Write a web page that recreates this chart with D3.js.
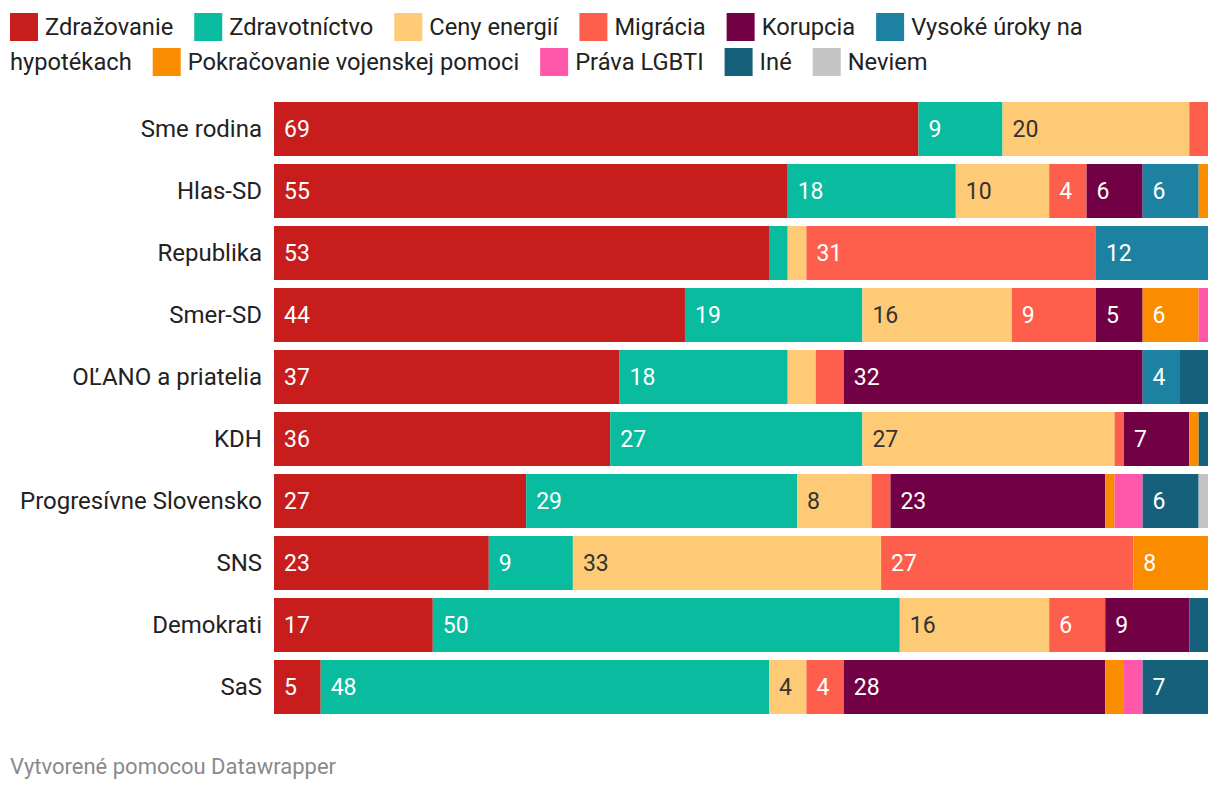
<!DOCTYPE html>
<html><head><meta charset="utf-8">
<script src="https://cdn.jsdelivr.net/npm/d3@7"></script>
<style>
html,body{margin:0;padding:0;background:#fff;}
svg{display:block;font-family:Roboto,"Noto Sans",sans-serif;}
</style></head>
<body><svg id="c" width="1220" height="792"></svg>
<script>
const parties = ["Sme rodina","Hlas-SD","Republika","Smer-SD","OĽANO a priatelia","KDH","Progresívne Slovensko","SNS","Demokrati","SaS"];
const seriesNames = ["Zdražovanie","Zdravotníctvo","Ceny energií","Migrácia","Korupcia","Vysoké úroky na hypotékach","Pokračovanie vojenskej pomoci","Práva LGBTI","Iné","Neviem"];
const zdrazovanie   = [69,55,53,44,37,36,27,23,17,5];
const zdravotnictvo = [9,18,2,19,18,27,29,9,50,48];
const cenyEnergii   = [20,10,2,16,3,27,8,33,16,4];
const migracia      = [2,4,31,9,3,1,2,27,6,4];
const korupcia      = [0,6,0,5,32,7,23,0,9,28];
const vysokeUroky   = [0,6,12,0,4,0,0,0,0,0];
const vojenskaPomoc = [0,1,0,6,0,1,1,8,0,2];
const pravaLGBTI    = [0,0,0,1,0,0,3,0,0,2];
const ine           = [0,0,0,0,3,1,6,0,2,7];
const neviem        = [0,0,0,0,0,0,1,0,0,0];
const seriesValues = [zdrazovanie,zdravotnictvo,cenyEnergii,migracia,korupcia,vysokeUroky,vojenskaPomoc,pravaLGBTI,ine,neviem];
const colors = ["#c71e1d","#09bb9f","#ffca76","#fe5f4c","#710045","#1d81a2","#fa8c00","#ff57aa","#15607a","#c4c4c4"];
const darkText = ["Ceny energií","Neviem"];

const svg = d3.select("#c");
const LEGEND_FONT = 23.7, CAT_FONT = 24, VAL_FONT = 23;

const rows = parties.map((p,i)=>{const r={party:p}; seriesNames.forEach((s,j)=>r[s]=seriesValues[j][i]); return r;});
const stack = d3.stack().keys(seriesNames)(rows);

const x = d3.scaleLinear().domain([0,100]).range([274,1208]);
const y = d3.scaleBand().domain(parties).range([102, 102+62*parties.length-8]).paddingInner(8/62).paddingOuter(0);
const color = d3.scaleOrdinal().domain(seriesNames).range(colors);

// legend with wrap
const lg = svg.append("g").attr("font-size",LEGEND_FONT).attr("fill","#222");
let lx = 10, ly = 0; const maxX = 1180, lineH = 35, sq = 28, sqGap = 7, itemGap = 21;
const measure = lg.append("text").attr("visibility","hidden");
function tw(t){ measure.text(t); return measure.node().getComputedTextLength(); }
seriesNames.forEach((s,i)=>{
  const words = s.split(" ");
  if (lx + sq + sqGap + tw(words[0]) > maxX) { lx = 10; ly += lineH; }
  lg.append("rect").attr("x",lx).attr("y",13+ly).attr("width",sq).attr("height",sq).attr("fill",color(s));
  lx += sq + sqGap;
  let cur = "", curX = lx;
  words.forEach((w,k)=>{
    const cand = cur ? cur + " " + w : w;
    if (curX + tw(cand) > maxX && cur) {
      lg.append("text").attr("x",curX).attr("y",35+ly).text(cur);
      ly += lineH; curX = 10; cur = w;
    } else cur = cand;
  });
  lg.append("text").attr("x",curX).attr("y",35+ly).text(cur);
  lx = curX + tw(cur) + itemGap;
});
measure.remove();

// bars
const g = svg.append("g");
stack.forEach(layer=>{
  const s = layer.key;
  layer.forEach((d,i)=>{
    const w = x(d[1]) - x(d[0]);
    if (w <= 0) return;
    g.append("rect").attr("x",x(d[0])).attr("y",y(parties[i])).attr("width",w).attr("height",y.bandwidth()).attr("fill",color(s));
    const v = d[1]-d[0];
    if (v >= 4) {
      g.append("text").attr("x",x(d[0])+10).attr("y",y(parties[i])+y.bandwidth()/2).attr("dy","0.35em")
        .attr("font-size",VAL_FONT).attr("fill",darkText.includes(s)?"#333":"#fff").text(v);
    }
  });
});

// category axis
const yAxis = d3.axisLeft(y).tickSize(0).tickPadding(12);
const ag = svg.append("g").attr("transform","translate(274,0)").call(yAxis);
ag.select(".domain").remove();
ag.selectAll("text").attr("font-size",CAT_FONT).attr("font-family","Roboto,'Noto Sans',sans-serif").attr("fill","#222");

// footer
svg.append("text").attr("x",10).attr("y",774).attr("font-size",22).attr("fill","#8a8a8a").text("Vytvorené pomocou Datawrapper");
</script></body></html>
